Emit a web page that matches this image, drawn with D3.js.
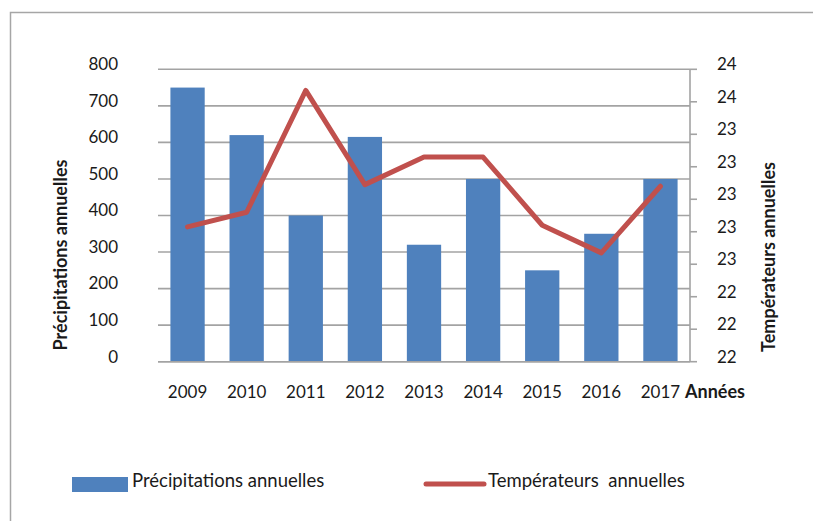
<!DOCTYPE html>
<head>
  <meta charset="UTF-8">
  <script src="https://d3js.org/d3.v7.min.js"></script>
</head>
<body style="margin:0;background:#fff">
  <svg id="chartSVG" width="813" height="521"></svg>
</body>
<style>
  text { font-family: Lato, 'Open Sans', sans-serif; fill: #1a1a1a; }
  .tick-label { font-size: 17px; }
  .axis-title { font-size: 18px; font-weight: bold; }
  .legend-text { font-size: 18.5px; white-space: pre; }
</style>
<script type="text/javascript">
  // data
  const years = ['2009', '2010', '2011', '2012', '2013', '2014', '2015', '2016', '2017'];
  const precipitations = [750, 620, 400, 615, 320, 500, 250, 350, 500];
  const temperatures = [22.83, 22.92, 23.67, 23.09, 23.26, 23.26, 22.84, 22.67, 23.08];
  const leftTicks = [0, 100, 200, 300, 400, 500, 600, 700, 800];
  const rightTicks = [22, 22.2, 22.4, 22.6, 22.8, 23, 23.2, 23.4, 23.6, 23.8];

  const plot = { left: 158, right: 690, top: 69.3, bottom: 361.7 };
  const barColor = '#4f81bd', lineColor = '#c0504d', gridColor = '#a3a3a3';

  const svg = d3.select('#chartSVG');

  // outer frame (top + left only visible)
  svg.append('path')
    .attr('d', 'M10.5,521 V12.5 H813')
    .attr('fill', 'none')
    .attr('stroke', '#a6a6a6')
    .attr('stroke-width', 1.5);

  const x = d3.scaleBand().domain(years).range([plot.left, plot.right]).padding(0);
  const yLeft = d3.scaleLinear().domain([0, 800]).range([plot.bottom, plot.top]);
  const yRight = d3.scaleLinear().domain([22, 23.8]).range([plot.bottom, plot.top]);

  // gridlines
  svg.append('g').selectAll('line')
    .data(leftTicks)
    .join('line')
    .attr('x1', plot.left).attr('x2', plot.right)
    .attr('y1', d => yLeft(d)).attr('y2', d => yLeft(d))
    .attr('stroke', gridColor)
    .attr('stroke-width', 1.6);

  // left tick labels
  svg.append('g').selectAll('text')
    .data(leftTicks)
    .join('text')
    .attr('class', 'tick-label')
    .attr('x', 118)
    .attr('y', d => yLeft(d) - 3.5)
    .attr('text-anchor', 'end')
    .attr('dominant-baseline', 'middle')
    .text(d => d);

  // bars
  const barW = x.bandwidth() * 0.58;
  svg.append('g').selectAll('rect')
    .data(years)
    .join('rect')
    .attr('x', d => x(d) + (x.bandwidth() - barW) / 2)
    .attr('width', barW)
    .attr('y', (d, i) => yLeft(precipitations[i]))
    .attr('height', (d, i) => plot.bottom - yLeft(precipitations[i]))
    .attr('fill', barColor);

  // baseline
  svg.append('line')
    .attr('x1', plot.left).attr('x2', plot.right)
    .attr('y1', plot.bottom).attr('y2', plot.bottom)
    .attr('stroke', gridColor).attr('stroke-width', 1.6);

  // right axis
  const rAxis = svg.append('g');
  rAxis.append('line')
    .attr('x1', plot.right).attr('x2', plot.right)
    .attr('y1', plot.top).attr('y2', plot.bottom)
    .attr('stroke', gridColor).attr('stroke-width', 1.6);
  rAxis.selectAll('line.tk')
    .data(rightTicks)
    .join('line')
    .attr('class', 'tk')
    .attr('x1', plot.right).attr('x2', plot.right + 7)
    .attr('y1', d => yRight(d)).attr('y2', d => yRight(d))
    .attr('stroke', gridColor).attr('stroke-width', 1.6);
  rAxis.selectAll('text')
    .data(rightTicks)
    .join('text')
    .attr('class', 'tick-label')
    .attr('x', 717)
    .attr('y', d => yRight(d) - 3.5)
    .attr('dominant-baseline', 'middle')
    .text(d => d3.format('.0f')(d));

  // temperature line
  const line = d3.line()
    .x((d, i) => x(years[i]) + x.bandwidth() / 2)
    .y(d => yRight(d));
  svg.append('path')
    .datum(temperatures)
    .attr('d', line)
    .attr('fill', 'none')
    .attr('stroke', lineColor)
    .attr('stroke-width', 5)
    .attr('stroke-linejoin', 'round')
    .attr('stroke-linecap', 'round');

  // x labels
  svg.append('g').selectAll('text')
    .data(years)
    .join('text')
    .attr('class', 'tick-label')
    .attr('x', d => x(d) + x.bandwidth() / 2)
    .attr('y', 398)
    .attr('text-anchor', 'middle')
    .text(d => d);

  svg.append('text')
    .attr('class', 'axis-title')
    .attr('x', 685)
    .attr('y', 398)
    .text('Années');

  // axis titles
  svg.append('text')
    .attr('class', 'axis-title')
    .attr('transform', 'translate(67,255) rotate(-90)')
    .attr('text-anchor', 'middle')
    .text('Précipitations annuelles');

  svg.append('text')
    .attr('class', 'axis-title')
    .attr('transform', 'translate(775,257) rotate(-90)')
    .attr('text-anchor', 'middle')
    .text('Températeurs annuelles');

  // legend
  const legend = svg.append('g');
  legend.append('rect')
    .attr('x', 72).attr('y', 477)
    .attr('width', 56).attr('height', 15)
    .attr('fill', barColor);
  legend.append('text')
    .attr('class', 'legend-text')
    .attr('x', 132).attr('y', 487)
    .text('Précipitations annuelles');
  legend.append('line')
    .attr('x1', 426).attr('x2', 484)
    .attr('y1', 484).attr('y2', 484)
    .attr('stroke', lineColor)
    .attr('stroke-width', 5)
    .attr('stroke-linecap', 'round');
  legend.append('text')
    .attr('class', 'legend-text')
    .attr('x', 488).attr('y', 487)
    .text('Températeurs  annuelles');
</script>
